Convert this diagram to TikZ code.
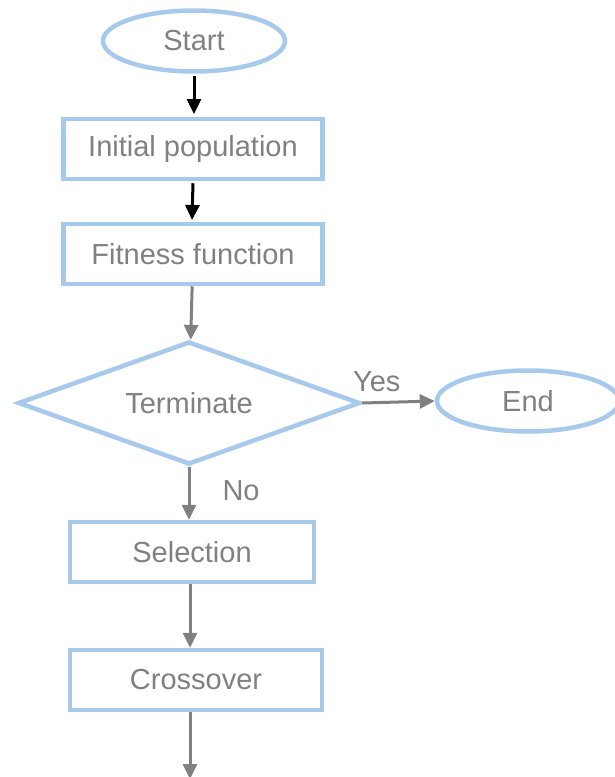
\documentclass[tikz,border=0pt]{standalone}
\usepackage{fontspec}
\setmainfont{Liberation Sans}
\usetikzlibrary{arrows.meta, shapes.geometric}
\definecolor{boxblue}{RGB}{166,201,236}
\definecolor{txtgray}{RGB}{128,128,128}

\begin{document}
\begin{tikzpicture}[x=1pt,y=-1pt,
    every node/.style={font=\fontsize{29}{34}\selectfont, text=txtgray, inner sep=0pt},
    blk/.style={draw=boxblue, line width=4.5pt, minimum height=60pt, minimum width=#1},
    oval/.style={draw=boxblue, line width=4.5pt, ellipse, minimum width=182pt, minimum height=61pt},
    arr/.style={-{Triangle[length=15pt,width=14pt]}, line width=3pt, draw=txtgray}]
    \useasboundingbox (0,0) rectangle (615,777);
    \node [oval] (start) at (194,41) {Start};
    \node [blk=259pt] (init) at (193,149) {Initial population};
    \node [blk=259pt] (fit) at (193,254) {Fitness function};
    \node [draw=boxblue, line width=4.5pt, diamond, aspect=2.7,
        minimum width=342pt, minimum height=123pt] (term) at (189,403) {Terminate};
    \node [oval] (end) at (528,401) {End};
    \node [blk=244pt] (sel) at (192,552) {Selection};
    \node [blk=252pt] (cross) at (196,680) {Crossover};
    \coordinate (out) at (190,779);
    % arrows
    \draw [arr, draw=black] (start.south) ++(0,2) -- (194,114);
    \draw [arr, draw=black] (init.south) ++(0,2) -- (192,220);
    \draw [arr] (fit) -- (term);
    \draw [arr] (term.east) -- (end.west)
        node [pos=0.2, above=9pt] (yes) {Yes};
    \draw [arr] (term.south) -- (term.south |- sel.north)
        node [pos=0.45, right=32pt] (no) {No};
    \draw [arr] (sel.south -| out) -- (cross.north -| out);
    \draw [arr] (cross.south -| out) -- (out);
\end{tikzpicture}
\end{document}
